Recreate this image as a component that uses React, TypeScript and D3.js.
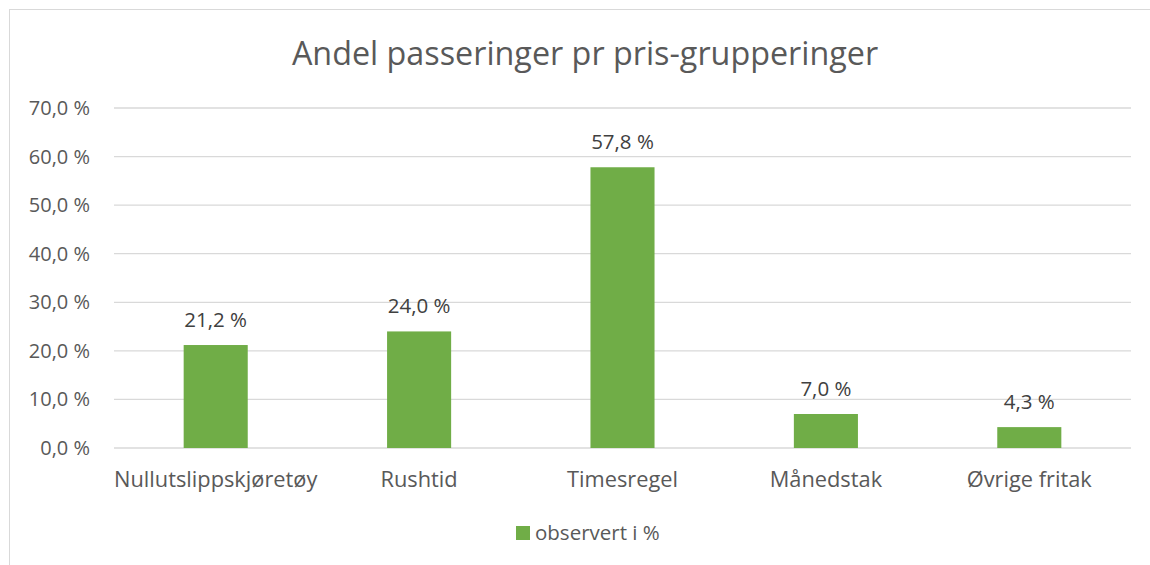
import React from 'react';
import * as d3 from 'd3';

// andel passeringer per prisgruppe
const categories = ['Nullutslippskjøretøy', 'Rushtid', 'Timesregel', 'Månedstak', 'Øvrige fritak'];
const observed = [21.2, 24.0, 57.8, 7.0, 4.3];
const yTicks = [0, 10, 20, 30, 40, 50, 60, 70];
const seriesName = 'observert i %';
const title = 'Andel passeringer pr pris-grupperinger';

const width = 1150;
const height = 565;
const font = "'Open Sans', 'Noto Sans', sans-serif";

export default function App() {
  const x = d3.scaleBand().domain(categories).range([114, 1131]).padding(0);
  const y = d3.scaleLinear().domain([0, 70]).range([448, 108]);
  const barW = x.bandwidth() * 0.315;
  const fmt = (v: number) => v.toFixed(1).replace('.', ',') + ' %';

  return (
    <svg width={width} height={height} style={{ position: 'absolute', left: 0, top: 0 }}>
      <rect x={0} y={0} width={width} height={height} fill="#fff" />
      <rect x={9.5} y={9.5} width={width + 20} height={height + 20} fill="none" stroke="#d9d9d9" />
      <text x={585} y={65} textAnchor="middle" fontFamily={font} fontSize={32.3} fill="#595959">{title}</text>
      {yTicks.map((t) => (
        <g key={t}>
          <line x1={114} x2={1131} y1={y(t)} y2={y(t)} stroke="#d9d9d9" strokeWidth={1.3} />
          <text x={90} y={y(t) + 7} textAnchor="end" fontFamily={font} fontSize={20} fill="#595959">{fmt(t)}</text>
        </g>
      ))}
      {categories.map((c, i) => {
        const cx = x(c)! + x.bandwidth() / 2;
        return (
          <g key={c}>
            <rect x={cx - barW / 2} y={y(observed[i])} width={barW} height={y(0) - y(observed[i])} fill="#70ad47" />
            <text x={cx} y={y(observed[i]) - 18.5} textAnchor="middle" fontFamily={font} fontSize={20.5} fill="#404040">{fmt(observed[i])}</text>
            <text x={cx} y={487} textAnchor="middle" fontFamily={font} fontSize={21.8} fill="#595959">{c}</text>
          </g>
        );
      })}
      <rect x={516} y={526} width={14} height={14} fill="#70ad47" />
      <text x={535} y={540} fontFamily={font} fontSize={20.5} fill="#595959">{seriesName}</text>
    </svg>
  );
}
